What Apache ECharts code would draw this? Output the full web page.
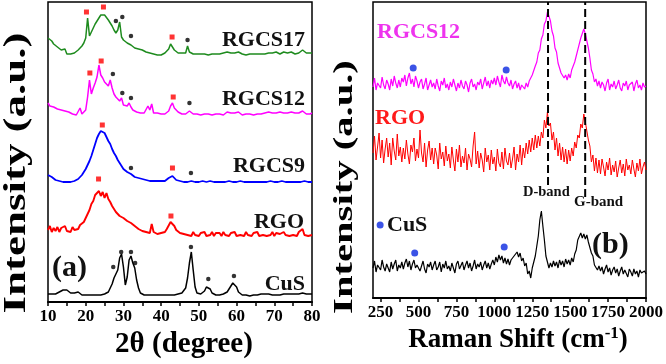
<!DOCTYPE html>
<html>
<head>
<meta charset="utf-8">
<script src="https://cdn.jsdelivr.net/npm/echarts@6/dist/echarts.min.js"></script>
<style>
  html, body { margin: 0; padding: 0; background: #fff; }
  #chart { width: 666px; height: 364px; }
</style>
</head>
<body>
<div id="chart"></div>
<script>
const chart = echarts.init(document.getElementById("chart"));
const SERIF = '"Liberation Serif", "Times New Roman", serif';

// ==========================
// DATA (intensities in arbitrary units)
// ==========================

// XRD: one value every 0.5 degree, 10 .. 80
const XRD_TICKS = [10, 15, 20, 25, 30, 35, 40, 45, 50, 55, 60, 65, 70, 75, 80];
const XRD_LABELS = [10, 20, 30, 40, 50, 60, 70, 80];

const xrdCuS = [
  8, 9, 8, 9, 8, 9, 10, 11, 12, 13,
  12, 10, 9, 8, 9, 8, 10, 8, 7, 8,
  7, 8, 7, 8, 7, 8, 7, 8, 7, 8,
  8, 9, 10, 12, 18, 24, 22, 32, 44, 48,
  35, 17, 25, 42, 46, 39, 34, 22, 14, 9,
  8, 7, 8, 7, 8, 7, 8, 7, 8, 7,
  8, 7, 8, 7, 8, 7, 8, 7, 8, 8,
  8, 9, 10, 14, 24, 39, 50, 32, 15, 9,
  8, 8, 9, 11, 15, 17, 13, 9, 8, 7,
  8, 7, 8, 8, 9, 10, 13, 16, 19, 19,
  15, 10, 8, 7, 8, 7, 8, 6, 8, 7,
  8, 7, 6, 8, 7, 8, 7, 8, 6, 7,
  8, 7, 8, 7, 6, 8, 7, 8, 7, 8,
  7, 8, 6, 8, 7, 9, 7, 8, 7, 8,
  8
];

const xrdRGO = [
  72, 76, 70, 74, 71, 75, 70, 74, 72, 76,
  71, 73, 70, 75, 72, 74, 73, 77, 75, 80,
  82, 88, 92, 98, 101, 107, 105, 111, 106, 110,
  104, 109, 103, 100, 96, 94, 90, 91, 86, 88,
  84, 85, 81, 83, 79, 80, 76, 77, 73, 75,
  71, 73, 70, 72, 69, 78, 70, 71, 68, 70,
  69, 71, 70, 73, 75, 80, 78, 76, 72, 71,
  69, 70, 68, 70, 67, 69, 66, 70, 67, 69,
  66, 69, 67, 70, 66, 68, 67, 70, 66, 69,
  67, 69, 66, 70, 67, 68, 66, 69, 67, 70,
  66, 68, 67, 69, 66, 70, 67, 68, 66, 69,
  67, 70, 66, 68, 67, 69, 66, 68, 67, 70,
  66, 69, 67, 68, 66, 70, 67, 69, 66, 68,
  67, 69, 66, 70, 68, 73, 67, 69, 66, 68,
  67
];

const xrdRGCS9 = [
  127, 126, 125, 123, 122, 121, 121, 120, 120, 120,
  120, 120, 120, 121, 121, 122, 123, 125, 127, 130,
  133, 137, 141, 146, 152, 158, 164, 168, 171, 171,
  169, 165, 161, 158, 153, 149, 146, 142, 139, 136,
  133, 131, 130, 128, 128, 126, 125, 124, 124, 123,
  123, 122, 122, 122, 121, 121, 121, 121, 121, 121,
  121, 121, 121, 122, 124, 126, 126, 124, 122, 121,
  121, 120, 120, 120, 120, 121, 121, 120, 120, 120,
  120, 120, 121, 120, 120, 120, 121, 120, 120, 120,
  120, 121, 120, 120, 120, 120, 121, 120, 120, 120,
  120, 120, 121, 120, 120, 120, 120, 121, 120, 120,
  120, 120, 120, 121, 120, 120, 120, 120, 121, 120,
  120, 120, 120, 120, 121, 120, 120, 120, 120, 120,
  120, 121, 120, 120, 120, 122, 121, 120, 120, 120,
  120
];

const xrdRGCS12 = [
  199, 196, 198, 195, 196, 193, 195, 192, 194, 191,
  193, 190, 191, 188, 189, 187, 188, 194, 188, 187,
  192, 205, 222, 208, 214, 219, 225, 237, 227, 224,
  220, 218, 216, 222, 214, 208, 205, 203, 201, 204,
  197, 195, 196, 199, 195, 192, 191, 190, 191, 189,
  190, 189, 190, 196, 192, 198, 189, 188, 189, 187,
  188, 187, 188, 189, 191, 196, 199, 194, 192, 190,
  189, 188, 189, 188, 189, 191, 189, 188, 190, 188,
  189, 187, 189, 188, 190, 188, 189, 187, 189, 188,
  190, 188, 189, 187, 188, 190, 188, 189, 187, 189,
  188, 190, 188, 187, 189, 188, 190, 188, 189, 187,
  189, 188, 190, 188, 187, 189, 188, 190, 188, 189,
  187, 189, 188, 190, 188, 189, 187, 189, 188, 190,
  188, 189, 187, 189, 188, 191, 189, 188, 190, 188,
  189
];

const xrdRGCS17 = [
  264, 262, 261, 258, 257, 255, 254, 252, 251, 253,
  248, 249, 248, 250, 249, 251, 252, 254, 256, 259,
  264, 284, 266, 270, 274, 278, 281, 284, 287, 289,
  287, 285, 282, 279, 276, 272, 269, 272, 280, 265,
  262, 260, 259, 260, 257, 256, 254, 253, 253, 252,
  252, 251, 250, 251, 249, 250, 248, 249, 247, 248,
  247, 248, 249, 250, 253, 258, 256, 252, 250, 249,
  248, 249, 248, 249, 256, 250, 249, 248, 249, 248,
  249, 248, 250, 248, 249, 247, 249, 248, 250, 248,
  249, 248, 250, 249, 248, 250, 248, 249, 247, 249,
  248, 250, 249, 248, 249, 247, 249, 248, 250, 248,
  249, 248, 250, 248, 249, 248, 250, 249, 248, 249,
  248, 250, 249, 248, 249, 250, 248, 249, 248, 250,
  249, 248, 250, 249, 248, 252, 250, 249, 248, 249,
  249
];

// reflection markers [2theta, height]
const xrdGraphite = [[20.2, 290], [24.7, 295], [42.9, 265], [21.1, 229], [24.1, 241],
  [43.2, 205], [24.4, 177], [43.0, 134], [23.4, 123], [42.6, 86]];
const xrdCuSPeaks = [[28.0, 281], [29.7, 285], [32.0, 266], [47.0, 262], [27.2, 228],
  [29.7, 209], [32.0, 204], [47.5, 199], [32.0, 134], [47.9, 129], [27.3, 35],
  [29.4, 50], [32.0, 50], [33.1, 39], [47.9, 55], [52.5, 23], [59.3, 26]];

// Raman: one value every 10 cm-1, 200 .. 2000
const RAMAN_TICKS = [250, 375, 500, 625, 750, 875, 1000, 1125, 1250, 1375, 1500, 1625, 1750, 1875, 2000];
const RAMAN_LABELS = [250, 500, 750, 1000, 1250, 1500, 1750, 2000];

const ramanRGCS12 = [
  211, 220, 208, 215, 217, 210, 221, 213, 209, 218,
  214, 208, 219, 212, 222, 215, 210, 218, 211, 220,
  216, 223, 212, 220, 225, 214, 219, 211, 222, 217,
  210, 216, 219, 209, 214, 220, 208, 213, 218, 211,
  215, 209, 219, 212, 207, 217, 213, 220, 210, 214,
  208, 216, 211, 219, 213, 207, 215, 210, 218, 212,
  209, 217, 213, 206, 215, 219, 211, 214, 208, 216,
  213, 219, 209, 215, 221, 212, 217, 210, 218, 214,
  220, 213, 222, 216, 211, 223, 217, 214, 221, 215,
  212, 218, 209, 214, 217, 210, 215, 208, 213, 211,
  209, 215, 211, 217, 216, 223, 225, 232, 236, 245,
  248, 259, 263, 274, 277, 286, 282, 277, 267, 262,
  250, 246, 235, 233, 225, 226, 220, 223, 218, 224,
  220, 228, 227, 236, 238, 248, 249, 260, 262, 269,
  264, 262, 250, 240, 228, 224, 216, 219, 212, 217,
  210, 216, 213, 207, 215, 219, 208, 214, 211, 217,
  209, 213, 218, 210, 207, 215, 212, 217, 208, 213,
  211, 216, 207, 214, 218, 210, 213, 208, 215, 211,
  212
];

const ramanRGO = [
  145, 162, 138, 151, 165, 140, 158, 135, 149, 160,
  141, 155, 133, 160, 147, 138, 164, 142, 151, 136,
  150, 139, 158, 144, 134, 153, 146, 160, 137, 149,
  140, 168, 145, 136, 155, 131, 148, 157, 138, 150,
  134, 150, 143, 129, 155, 139, 146, 132, 152, 137,
  144, 130, 151, 138, 127, 149, 136, 153, 131, 142,
  135, 150, 128, 144, 139, 131, 152, 166, 134, 147,
  130, 145, 138, 126, 150, 136, 143, 128, 148, 134,
  141, 127, 149, 135, 131, 146, 129, 150, 137, 133,
  145, 130, 139, 151, 128, 144, 136, 153, 133, 150,
  140, 155, 144, 158, 146, 160, 148, 163, 150, 162,
  152, 166, 160, 178, 170, 186, 172, 175, 158, 166,
  148, 160, 142, 155, 138, 151, 136, 149, 134, 148,
  137, 150, 142, 156, 150, 163, 160, 174, 170, 184,
  176, 178, 158, 152, 136, 143, 127, 140, 125, 138,
  124, 139, 131, 122, 136, 128, 140, 123, 133, 126,
  137, 121, 130, 138, 125, 134, 122, 139, 128, 133,
  124, 138, 129, 121, 135, 127, 139, 124, 131, 136,
  128
];

const ramanCuS = [
  30, 37, 26, 33, 35, 28, 38, 31, 27, 34,
  32, 26, 36, 29, 34, 38, 27, 33, 30, 36,
  29, 35, 39, 31, 37, 28, 34, 38, 30, 33,
  35, 27, 32, 37, 29, 25, 34, 31, 36, 28,
  33, 37, 28, 31, 36, 26, 34, 30, 37, 29,
  32, 27, 35, 30, 25, 34, 37, 29, 31, 36,
  28, 33, 37, 30, 35, 27, 32, 38, 29, 34,
  31, 36, 28, 33, 37, 30, 35, 29, 34, 38,
  33, 41, 36, 43, 38, 42, 35, 40, 34, 39,
  33, 38, 36, 42, 40, 46, 41, 45, 37, 40,
  32, 35, 24, 27, 20, 30, 36, 42, 52, 62,
  78, 87, 72, 58, 42, 36, 30, 35, 31, 37,
  32, 36, 30, 38, 33, 37, 31, 39, 34, 38,
  33, 40, 36, 44, 48, 58, 57, 65, 60, 64,
  59, 63, 56, 58, 45, 42, 33, 35, 28, 32,
  27, 31, 24, 29, 33, 26, 30, 23, 28, 31,
  25, 29, 22, 27, 31, 24, 28, 26, 21, 29,
  26, 22, 29, 24, 27, 21, 28, 25, 23, 27,
  24
];

// CuS band markers [shift, height]; last one is the key dot
const ramanCuSPeaks = [[465, 230], [1078, 228], [475, 45], [1065, 51], [247, 73]];
// D and G band guide lines [shift, bottom, top]
const ramanBands = [[1354, 113, 296], [1599, 101, 296]];

// sampling grids of the traces
const ANGLES = xrdCuS.map((_, i) => 10 + i * 0.5);
const SHIFTS = ramanCuS.map((_, i) => 200 + i * 10);

const pairs = (xs, ys) => xs.map((x, i) => [x, ys[i]]);

// ==========================
// HELPERS
// ==========================

function curve(grid, xs, ys, color, width) {
  return {
    type: "line",
    xAxisIndex: grid, yAxisIndex: grid,
    data: pairs(xs, ys),
    showSymbol: false,
    silent: true,
    lineStyle: { color, width },
    animation: false
  };
}

function marks(grid, data, symbol, size, color) {
  return {
    type: "scatter",
    xAxisIndex: grid, yAxisIndex: grid,
    data, symbol, symbolSize: size,
    itemStyle: { color },
    silent: true,
    animation: false,
    z: 5
  };
}

function txt(text, x, y, size, color, align, extra) {
  return Object.assign({
    type: "text", x, y, silent: true, z: 100,
    style: {
      text, fill: color, textAlign: align || "left", textVerticalAlign: "middle",
      font: `bold ${size}px ${SERIF}`
    }
  }, extra || {});
}

function xAxis(grid, min, max, ticks, labels) {
  return {
    type: "value", gridIndex: grid, min, max,
    axisLine: { onZero: false, lineStyle: { color: "#000", width: 2 } },
    axisTick: { show: true, length: 4, customValues: ticks, lineStyle: { color: "#000", width: 1.5 } },
    axisLabel: {
      customValues: labels, color: "#000", fontFamily: SERIF,
      fontWeight: "bold", fontSize: 17, margin: 6,
      hideOverlap: false, showMaxLabel: true, showMinLabel: true,
      formatter: v => String(v)
    },
    splitLine: { show: false }
  };
}

// ==========================
// OPTION
// ==========================

const bandSeries = ramanBands.map(b => ({
  type: "line", xAxisIndex: 1, yAxisIndex: 1,
  data: [[b[0], b[1]], [b[0], b[2]]],
  showSymbol: false, silent: true, animation: false, z: 4,
  lineStyle: { color: "#000", width: 2, type: [8, 4] }
}));

chart.setOption({
  backgroundColor: "#fff",
  animation: false,
  grid: [
    { left: 48, top: 2, width: 264, height: 300, show: true, borderColor: "#000", borderWidth: 1.5 },
    { left: 373, top: 2, width: 277, height: 296, show: true, borderColor: "#000", borderWidth: 1.5 }
  ],
  xAxis: [
    xAxis(0, 10, 80, XRD_TICKS, XRD_LABELS),
    xAxis(1, 200, 2000, RAMAN_TICKS, RAMAN_LABELS)
  ],
  yAxis: [
    { type: "value", gridIndex: 0, min: 0, max: 300, show: false },
    { type: "value", gridIndex: 1, min: 0, max: 296, show: false }
  ],
  series: [
    curve(0, ANGLES, xrdCuS, "#000000", 1.5),
    curve(0, ANGLES, xrdRGO, "#ff0000", 1.9),
    curve(0, ANGLES, xrdRGCS9, "#0000ff", 1.8),
    curve(0, ANGLES, xrdRGCS12, "#ff00ff", 1.5),
    curve(0, ANGLES, xrdRGCS17, "#1e8b1e", 1.5),
    marks(0, xrdGraphite, "rect", 5, "#ff0000"),
    marks(0, xrdCuSPeaks, "circle", 4.5, "#000000"),
    curve(1, SHIFTS, ramanRGCS12, "#ff00ff", 1.2),
    curve(1, SHIFTS, ramanRGO, "#ff0000", 1),
    curve(1, SHIFTS, ramanCuS, "#000000", 1.2),
    ...bandSeries,
    marks(1, ramanCuSPeaks, "circle", 7, "#0a28e0")
  ],
  graphic: [
    // panel (a) labels
    txt("RGCS17", 305, 40, 22, "#111", "right"),
    txt("RGCS12", 305, 99, 22, "#111", "right"),
    txt("RGCS9", 305, 166, 22, "#111", "right"),
    txt("RGO", 304, 222, 22, "#111", "right"),
    txt("CuS", 305, 284, 22, "#111", "right"),
    txt("(a)", 52, 268, 30, "#111", "left"),
    // panel (b) labels
    txt("RGCS12", 377, 32, 22, "#ee33ee", "left"),
    txt("RGO", 375, 118, 22, "#ff1a1a", "left"),
    txt("D-band", 523, 192, 14.5, "#111", "left"),
    txt("G-band", 574, 202, 15, "#111", "left"),
    txt("CuS", 387, 225, 22, "#111", "left"),
    txt("(b)", 592, 245, 30, "#111", "left"),
    // axis titles
    txt("2θ (degree)", 184, 345, 29, "#000", "center"),
    {
      type: "text", x: 518, y: 340, silent: true, z: 100,
      style: {
        text: "{m|Raman Shift (cm}{s|-1}{m|)}",
        textAlign: "center", textVerticalAlign: "middle",
        rich: {
          m: { font: `bold 27px ${SERIF}`, fill: "#000", lineHeight: 30 },
          s: { font: `bold 17px ${SERIF}`, fill: "#000", lineHeight: 30, verticalAlign: "top" }
        }
      }
    },
    txt("Intensity (a.u.)", 17, 173, 31, "#000", "center", { rotation: Math.PI / 2, scaleX: 1.45 }),
    txt("Intensity (a.u.)", 345, 187, 28, "#000", "center", { rotation: Math.PI / 2, scaleX: 1.45 })
  ]
});
</script>
</body>
</html>
